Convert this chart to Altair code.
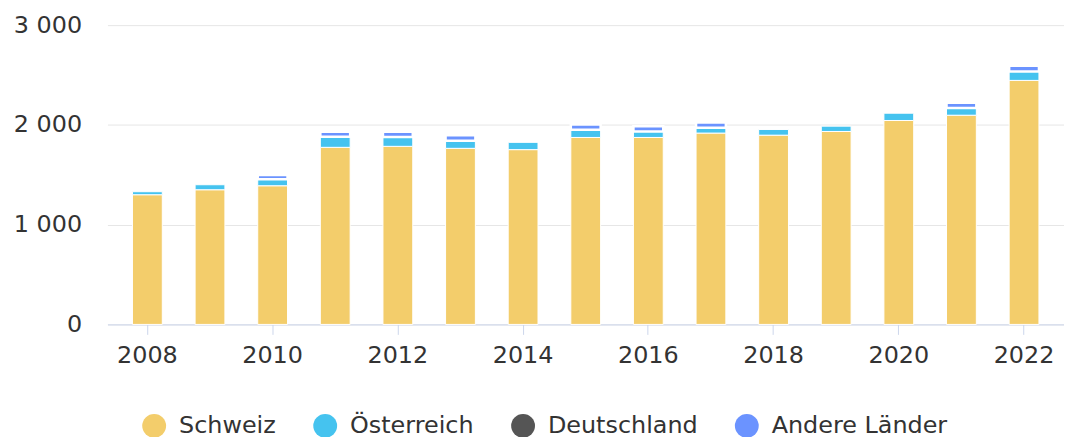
import altair as alt
import pandas as pd

years = list(range(2008, 2023))
laender = ["Schweiz", "Österreich", "Deutschland", "Andere Länder"]
farben = ["#f3cd6b", "#45c3ef", "#555555", "#6b93ff"]

schweiz = [1300, 1350, 1390, 1775, 1785, 1765, 1752, 1874, 1874, 1918, 1897, 1934, 2044, 2097, 2446]
oesterreich = [30, 50, 65, 105, 93, 76, 73, 77, 60, 53, 57, 53, 73, 73, 89]
deutschland = [0] * 15
andere = [0, 0, 42, 50, 53, 56, 0, 53, 53, 53, 0, 0, 0, 53, 57]

series = [schweiz, oesterreich, deutschland, andere]
rows = []
for i, (land, vals) in enumerate(zip(laender, series)):
    for y, v in zip(years, vals):
        rows.append({"Jahr": y, "Land": land, "Wert": v, "ord": i})
df = pd.DataFrame(rows)

FONT = "DejaVu Sans"

chart = alt.Chart(df).transform_filter(
    alt.datum.Wert > 0
).mark_bar(stroke="white").encode(
    x=alt.X("Jahr:O",
            scale=alt.Scale(paddingInner=0.524, paddingOuter=0.40),
            axis=alt.Axis(title=None, values=[2008, 2010, 2012, 2014, 2016, 2018, 2020, 2022],
                          labelAngle=0, labelFontSize=24, labelFont=FONT, labelColor="#333333",
                          domainColor="#ccd6eb", tickColor="#ccd6eb", tickSize=10,
                          labelPadding=9, grid=False)),
    y=alt.Y("Wert:Q", stack="zero",
            scale=alt.Scale(domain=[0, 3000], nice=False),
            axis=alt.Axis(title=None, values=[0, 1000, 2000, 3000],
                          labelExpr="replace(format(datum.value, ','), ',', ' ')",
                          labelFontSize=24, labelFont=FONT, labelColor="#333333",
                          ticks=False, domain=False, labelPadding=26,
                          gridColor="#e6e6e6")),
    color=alt.Color("Land:N", scale=alt.Scale(domain=laender, range=farben),
                    legend=alt.Legend(title=None, orient="none", direction="horizontal",
                                      legendX=35, legendY=391,
                                      symbolType="circle", symbolSize=576,
                                      symbolStrokeWidth=0, symbolOpacity=1,
                                      labelFontSize=24, labelFont=FONT, labelColor="#333333",
                                      labelOffset=13, columnPadding=37, labelLimit=400)),
    order=alt.Order("ord:Q", sort="ascending"),
    strokeWidth=alt.condition(alt.datum.Land == "Andere Länder", alt.value(2.5), alt.value(1)),
).properties(
    width=962, height=301,
    background="white",
    autosize=alt.AutoSizeParams(type="none"),
    padding={"left": 100, "top": 16, "right": 0, "bottom": 112},
).configure_view(stroke=None)

chart.save("out.html", embed_options={"renderer": "svg", "actions": False})
